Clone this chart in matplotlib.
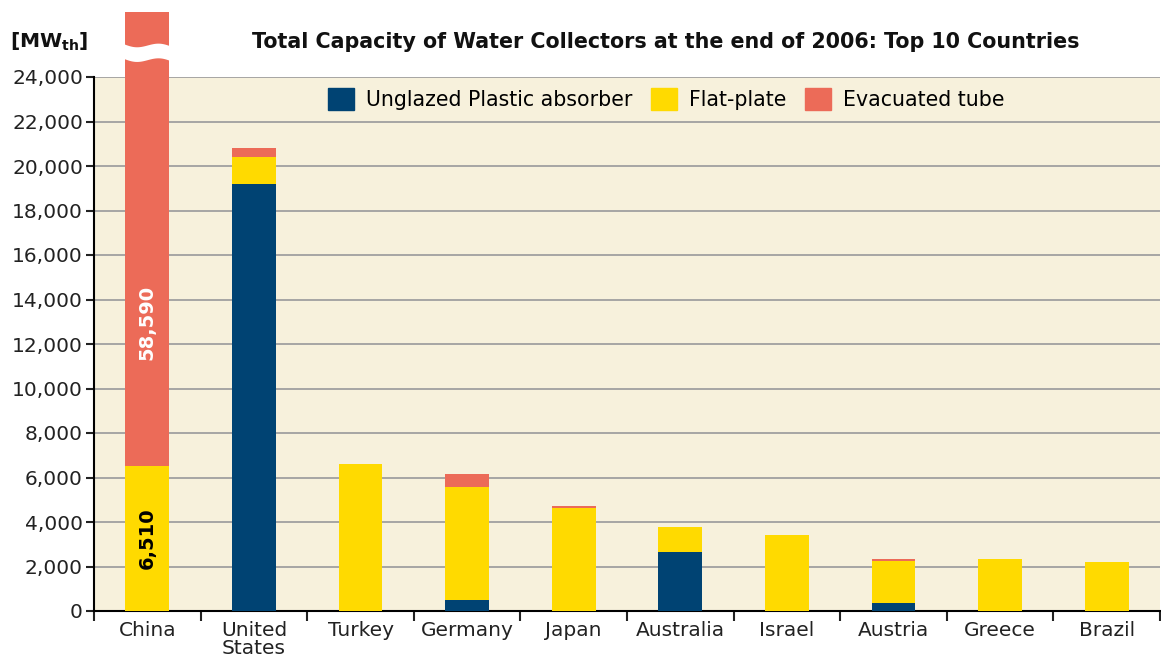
import numpy as np
import matplotlib
matplotlib.use("Agg")
import matplotlib.pyplot as plt
from matplotlib.patches import Patch

countries = ["China", "United\nStates", "Turkey", "Germany", "Japan",
             "Australia", "Israel", "Austria", "Greece", "Brazil"]
unglazed = [0, 19200, 0, 500, 0, 2640, 0, 380, 0, 0]
flat_plate = [6510, 1200, 6600, 5090, 4610, 1120, 3430, 1870, 2350, 2190]
evacuated = [58590, 420, 0, 570, 130, 0, 0, 75, 0, 0]
yticks = list(range(0, 24001, 2000))

C_UNG = "#004373"
C_FLAT = "#FFDA00"
C_EVAC = "#EC6B58"
BG = "#F7F1DC"
FS = 14.5

plt.rcParams['font.family'] = ['DejaVu Sans']

fig = plt.figure(figsize=(11.61, 6.60), dpi=100)
ax = fig.add_axes([94/1161, 1-611/660, (1160-94)/1161, (611-77)/660])
ax.set_facecolor(BG)

x = np.arange(len(countries))
w = 0.41
ymax = 24000
cap = 26900  # drawn top of broken bar

ung = np.array(unglazed)
fl = np.array(flat_plate)
ev = np.array(evacuated)
ev_draw = np.minimum(ung + fl + ev, cap) - (ung + fl)

ax.bar(x, ung, w, color=C_UNG, zorder=3)
ax.bar(x, fl, w, bottom=ung, color=C_FLAT, zorder=3)
ax.bar(x, ev_draw, w, bottom=ung + fl, color=C_EVAC, zorder=3, clip_on=False)

# break mark on the oversized bar
for i in range(len(x)):
    if ung[i] + fl[i] + ev[i] > ymax:
        xs = np.linspace(x[i] - w/2 - 0.02, x[i] + w/2 + 0.02, 100)
        t = (xs - xs[0]) / (xs[-1] - xs[0])
        wave = 110 * np.sin(2*np.pi*t) + 120 * t
        ax.fill_between(xs, 24840 - wave, 25500 - wave, color="white",
                        zorder=4, clip_on=False, lw=0)
        ax.text(x[i], fl[i] + ung[i] + (ymax - fl[i] - ung[i]) * 0.37, f"{ev[i]:,}",
                rotation=90, ha="center", va="center", color="white",
                fontsize=14, fontweight="bold", zorder=5)
        ax.text(x[i], ung[i] + fl[i] / 2, f"{fl[i]:,}", rotation=90,
                ha="center", va="center", color="black", fontsize=14,
                fontweight="bold", zorder=5)

ax.set_ylim(0, ymax)
ax.set_xlim(-0.5, len(x) - 0.5)
ax.set_yticks(yticks)
ax.set_yticklabels([f"{v:,}" for v in yticks], fontsize=FS, color="#222222")
ax.yaxis.grid(True, color="#A0A0A0", lw=1.3, zorder=1)
ax.set_axisbelow(True)

ax.set_xticks(x)
ax.set_xticklabels(countries, fontsize=FS, color="#222222", va="top",
                   linespacing=0.95)
ax.tick_params(axis="x", length=0, pad=7)
ax.set_xticks(np.arange(-0.5, len(x), 1), minor=True)
ax.tick_params(axis="x", which="minor", length=7, width=1.5, color="#222222")
ax.tick_params(axis="y", length=6, width=1.5, color="#222222", pad=2)

for s in ["top", "right"]:
    ax.spines[s].set_visible(False)
ax.spines["left"].set_linewidth(1.5)
ax.spines["bottom"].set_linewidth(1.5)

handles = [Patch(color=C_UNG, label="Unglazed Plastic absorber"),
           Patch(color=C_FLAT, label="Flat-plate"),
           Patch(color=C_EVAC, label="Evacuated tube")]
ax.legend(handles=handles, loc="center", bbox_to_anchor=(0.537, 0.959),
          ncol=3, frameon=False, fontsize=14.8, handlelength=1.25,
          handleheight=1.25, columnspacing=0.9, handletextpad=0.6)

fig.text(666/1161, 1-42/660,
         "Total Capacity of Water Collectors at the end of 2006: Top 10 Countries",
         ha="center", va="center", fontsize=14.9, fontweight="bold", color="#111111")
fig.text(10/1161, 1-42/660, r"[MW$_{\mathbf{th}}$]", ha="left", va="center",
         fontsize=14.5, fontweight="bold", color="#111111")

fig.savefig("out.png", dpi=100, facecolor="white")
